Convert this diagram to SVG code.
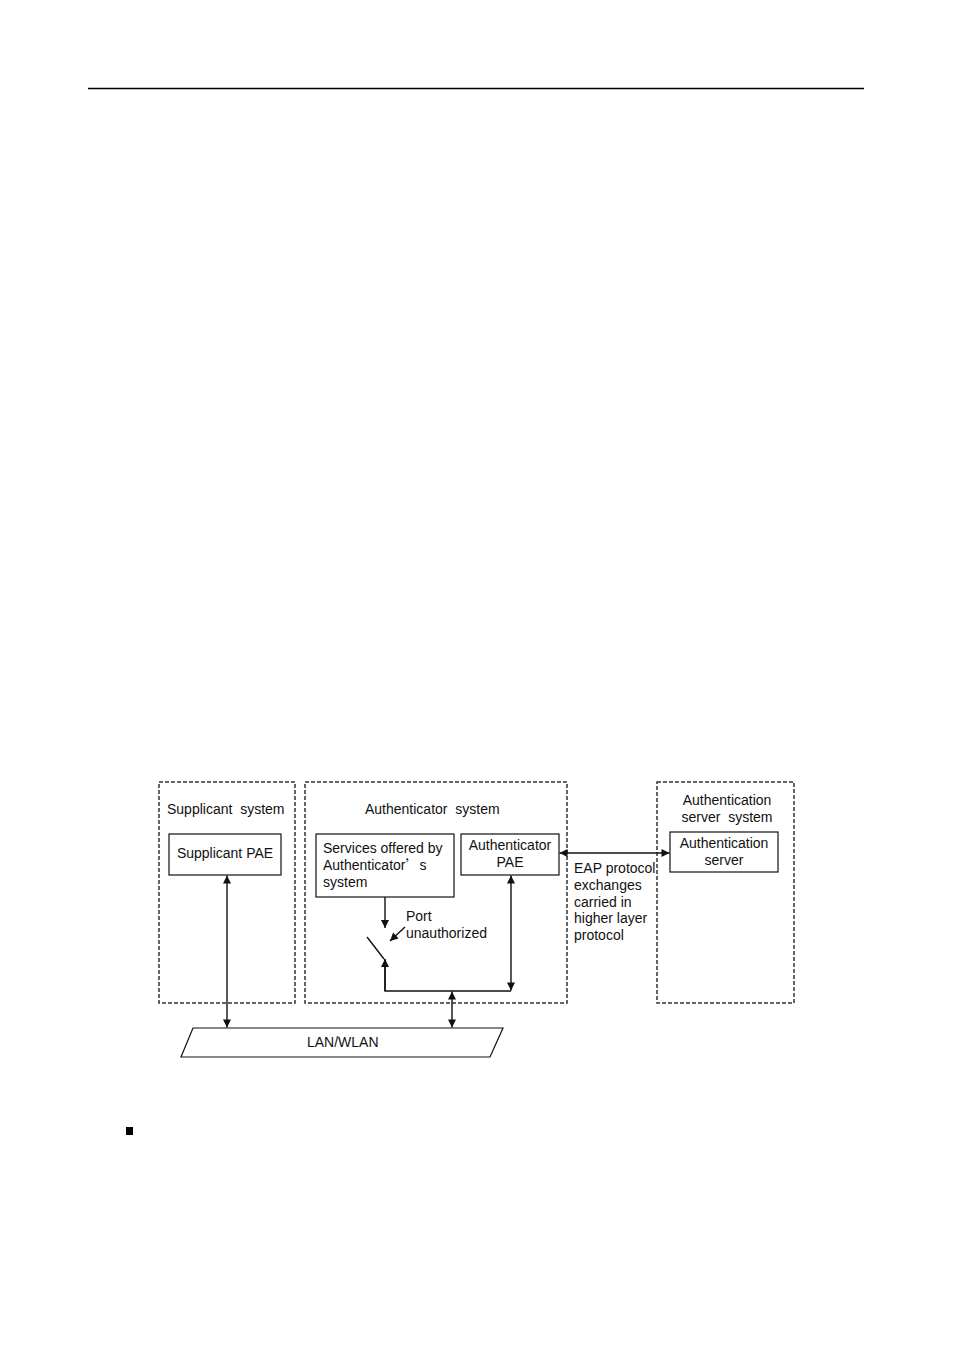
<svg xmlns="http://www.w3.org/2000/svg" width="954" height="1350" viewBox="0 0 954 1350">
<style>
text{font-family:"Liberation Sans",Arial,sans-serif;font-size:14px;fill:#111}
.sys{fill:none;stroke:#333;stroke-width:1.5;stroke-dasharray:4 2}
.box{fill:#fff;stroke:#111;stroke-width:1.2}
.ln{fill:none;stroke:#111;stroke-width:1.4}
.mid{text-anchor:middle}
</style>
<defs>
<marker id="ah" viewBox="0 0 10 10" refX="10" refY="5" markerWidth="9" markerHeight="8" markerUnits="userSpaceOnUse" orient="auto-start-reverse">
<path d="M0,0 L10,5 L0,10 z" fill="#111"/>
</marker>
</defs>
<line x1="88" y1="88.5" x2="864" y2="88.5" stroke="#000" stroke-width="1.3"/>
<rect x="126" y="1127" width="7" height="8" fill="#000"/>

<g id="supplicant-system">
<rect class="sys" x="159" y="782" width="136" height="221"/>
<text x="167" y="814" xml:space="preserve">Supplicant  system</text>
</g>
<g id="supplicant-pae">
<rect class="box" x="169" y="834" width="112" height="41"/>
<text class="mid" x="225" y="858">Supplicant PAE</text>
</g>
<g id="authenticator-system">
<rect class="sys" x="305" y="782" width="262" height="221"/>
<text x="365" y="814" xml:space="preserve">Authenticator  system</text>
</g>
<g id="services">
<rect class="box" x="316" y="834" width="138" height="63"/>
<text x="323" y="853">Services offered by</text>
<text x="323" y="870">Authenticator<tspan font-family="'Noto Sans CJK SC',sans-serif">’</tspan>s</text>
<text x="323" y="887">system</text>
</g>
<g id="authenticator-pae">
<rect class="box" x="461" y="834" width="98" height="41"/>
<text class="mid" x="510" y="850">Authenticator</text>
<text class="mid" x="510" y="867">PAE</text>
</g>
<g id="auth-server-system">
<rect class="sys" x="657" y="782" width="137" height="221"/>
<text class="mid" x="727" y="805">Authentication</text>
<text class="mid" x="727" y="822" xml:space="preserve">server  system</text>
</g>
<g id="auth-server">
<rect class="box" x="670" y="832" width="108" height="40"/>
<text class="mid" x="724" y="848">Authentication</text>
<text class="mid" x="724" y="865">server</text>
</g>
<g id="lan">
<path d="M193,1028 L503,1028 L490,1057 L181,1057 Z" fill="#fff" stroke="#111" stroke-width="1.2"/>
<text x="307" y="1047">LAN/WLAN</text>
</g>
<g id="port-label">
<text x="406" y="921">Port</text>
<text x="406" y="938">unauthorized</text>
</g>
<g id="eap-label">
<text x="574" y="873">EAP protocol</text>
<text x="574" y="890">exchanges</text>
<text x="574" y="907">carried in</text>
<text x="574" y="923">higher layer</text>
<text x="574" y="940">protocol</text>
</g>
<g id="connectors">
<line class="ln" x1="227" y1="875.5" x2="227" y2="1027.5" marker-start="url(#ah)" marker-end="url(#ah)"/>
<line class="ln" x1="385" y1="897" x2="385" y2="928" marker-end="url(#ah)"/>
<line class="ln" x1="367" y1="937" x2="384" y2="959"/>
<polyline class="ln" points="385,959 385,991 511,991"/>
<line class="ln" x1="385" y1="991" x2="385" y2="959" marker-end="url(#ah)"/>
<line class="ln" x1="511" y1="875.5" x2="511" y2="990.5" marker-start="url(#ah)" marker-end="url(#ah)"/>
<line class="ln" x1="452" y1="991.5" x2="452" y2="1027.5" marker-start="url(#ah)" marker-end="url(#ah)"/>
<line class="ln" x1="405" y1="927" x2="390" y2="941" marker-end="url(#ah)"/>
<line class="ln" x1="559.5" y1="853" x2="669.5" y2="853" marker-start="url(#ah)" marker-end="url(#ah)"/>
</g>
</svg>
